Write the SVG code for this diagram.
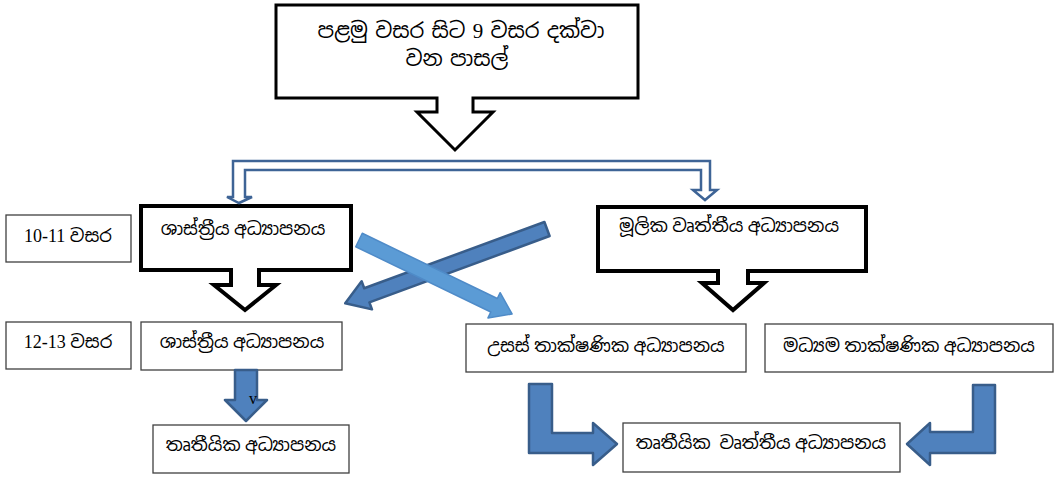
<svg xmlns="http://www.w3.org/2000/svg" width="1057" height="484" viewBox="0 0 1057 484">
<style>
.thick{fill:#fff;stroke:#000;stroke-width:4;stroke-linejoin:miter}
.mid{fill:#fff;stroke:#000;stroke-width:3}
.thin{fill:#fff;stroke:#404040;stroke-width:1.3}
.t{font-family:"Liberation Serif","Noto Sans Sinhala","Noto Sans",serif;font-size:18px;fill:#000;text-anchor:middle;white-space:pre}
.big{font-size:21px;word-spacing:2px}
.blk{fill:#4F81BD;stroke:#385D8A;stroke-width:2.5;stroke-linejoin:round}
.lt{fill:#5B9BD5;stroke:#4F8BC8;stroke-width:1.5;stroke-linejoin:round}
.hollow{fill:#fff;stroke:#3E6496;stroke-width:2.5;stroke-linejoin:miter}
</style>
<rect width="1057" height="484" fill="#fff"/>
<g id="n-top">
<path class="mid" d="M276,5 H638 V98 H473 V112 H493 L455,150 L417,112 H437 V98 H276 Z"/>
<text class="t big" x="461" y="38">පළමු වසර සිට 9 වසර දක්වා</text>
<text class="t big" x="457" y="66">වන පාසල්</text>
</g>
<g id="n-age1">
<rect class="thin" x="6" y="215" width="125" height="47"/>
<text class="t" x="68" y="242">10-11 වසර</text>
</g>
<g id="n-age2">
<rect class="thin" x="6" y="322" width="125" height="47"/>
<text class="t" x="68" y="348">12-13 වසර</text>
</g>
<g id="n-shastriya1">
<path class="thick" d="M141,206 H351 V270 H259 V285 H276 L245,310 L214,285 H231 V270 H141 Z"/>
<text class="t" x="243" y="235">ශාස්ත්‍රීය අධ්‍යාපනය</text>
</g>
<g id="n-mulika">
<path class="thick" d="M598,207 H866 V271 H748 V283 H764 L733,310 L702,283 H718 V271 H598 Z"/>
<text class="t" x="729" y="232">මූලික වෘත්තීය අධ්‍යාපනය</text>
</g>
<g id="n-shastriya2">
<rect class="thin" x="141" y="322" width="201" height="48"/>
<text class="t" x="242" y="348">ශාස්ත්‍රීය අධ්‍යාපනය</text>
</g>
<g id="n-tertiary">
<rect class="thin" x="153" y="425" width="196" height="48"/>
<text class="t" x="251" y="451">තෘතීයික අධ්‍යාපනය</text>
</g>
<g id="n-usas">
<rect class="thin" x="466" y="324" width="280" height="48"/>
<text class="t" x="606" y="352">උසස් තාක්ෂණික අධ්‍යාපනය</text>
</g>
<g id="n-madhyama">
<rect class="thin" x="765" y="324" width="288" height="48"/>
<text class="t" x="909" y="352">මධ්‍යම තාක්ෂණික අධ්‍යාපනය</text>
</g>
<g id="n-tertvoc">
<rect class="thin" x="623" y="423" width="277" height="49"/>
<text class="t" x="761" y="449">තෘතීයික  වෘත්තීය අධ්‍යාපනය</text>
</g>
<g id="connectors">
<path class="hollow" d="M233,161 H710 V190 H717 L705,200 L693,190 H701 V170 H245 V197 H252 L239,203 L227,197 H233 Z"/>
<path class="blk" d="M235,370 H257 V400 H267 L246,421 L225,400 H235 Z"/>
<text x="253" y="404" style="font-family:'Liberation Serif',serif;font-size:16px;fill:#000;text-anchor:middle">v</text>
<path class="blk" d="M529,384 H552 V433 H593 V423 L617,444 L593,465 V453 H529 Z"/>
<path class="blk" d="M995,385 H973 V432 H930 V423 L907,444 L930,465 V453 H995 Z"/>
<g transform="translate(547,229) rotate(159.8)">
<path class="blk" d="M0,-7.5 H192 V-15 L215,0 L192,15 V7.5 H0 Z"/>
</g>
<g transform="translate(359,240) rotate(25.8)">
<path class="lt" d="M0,-7.5 H150 V-14 L170,0 L150,14 V7.5 H0 Z"/>
</g>
</g>
</svg>
